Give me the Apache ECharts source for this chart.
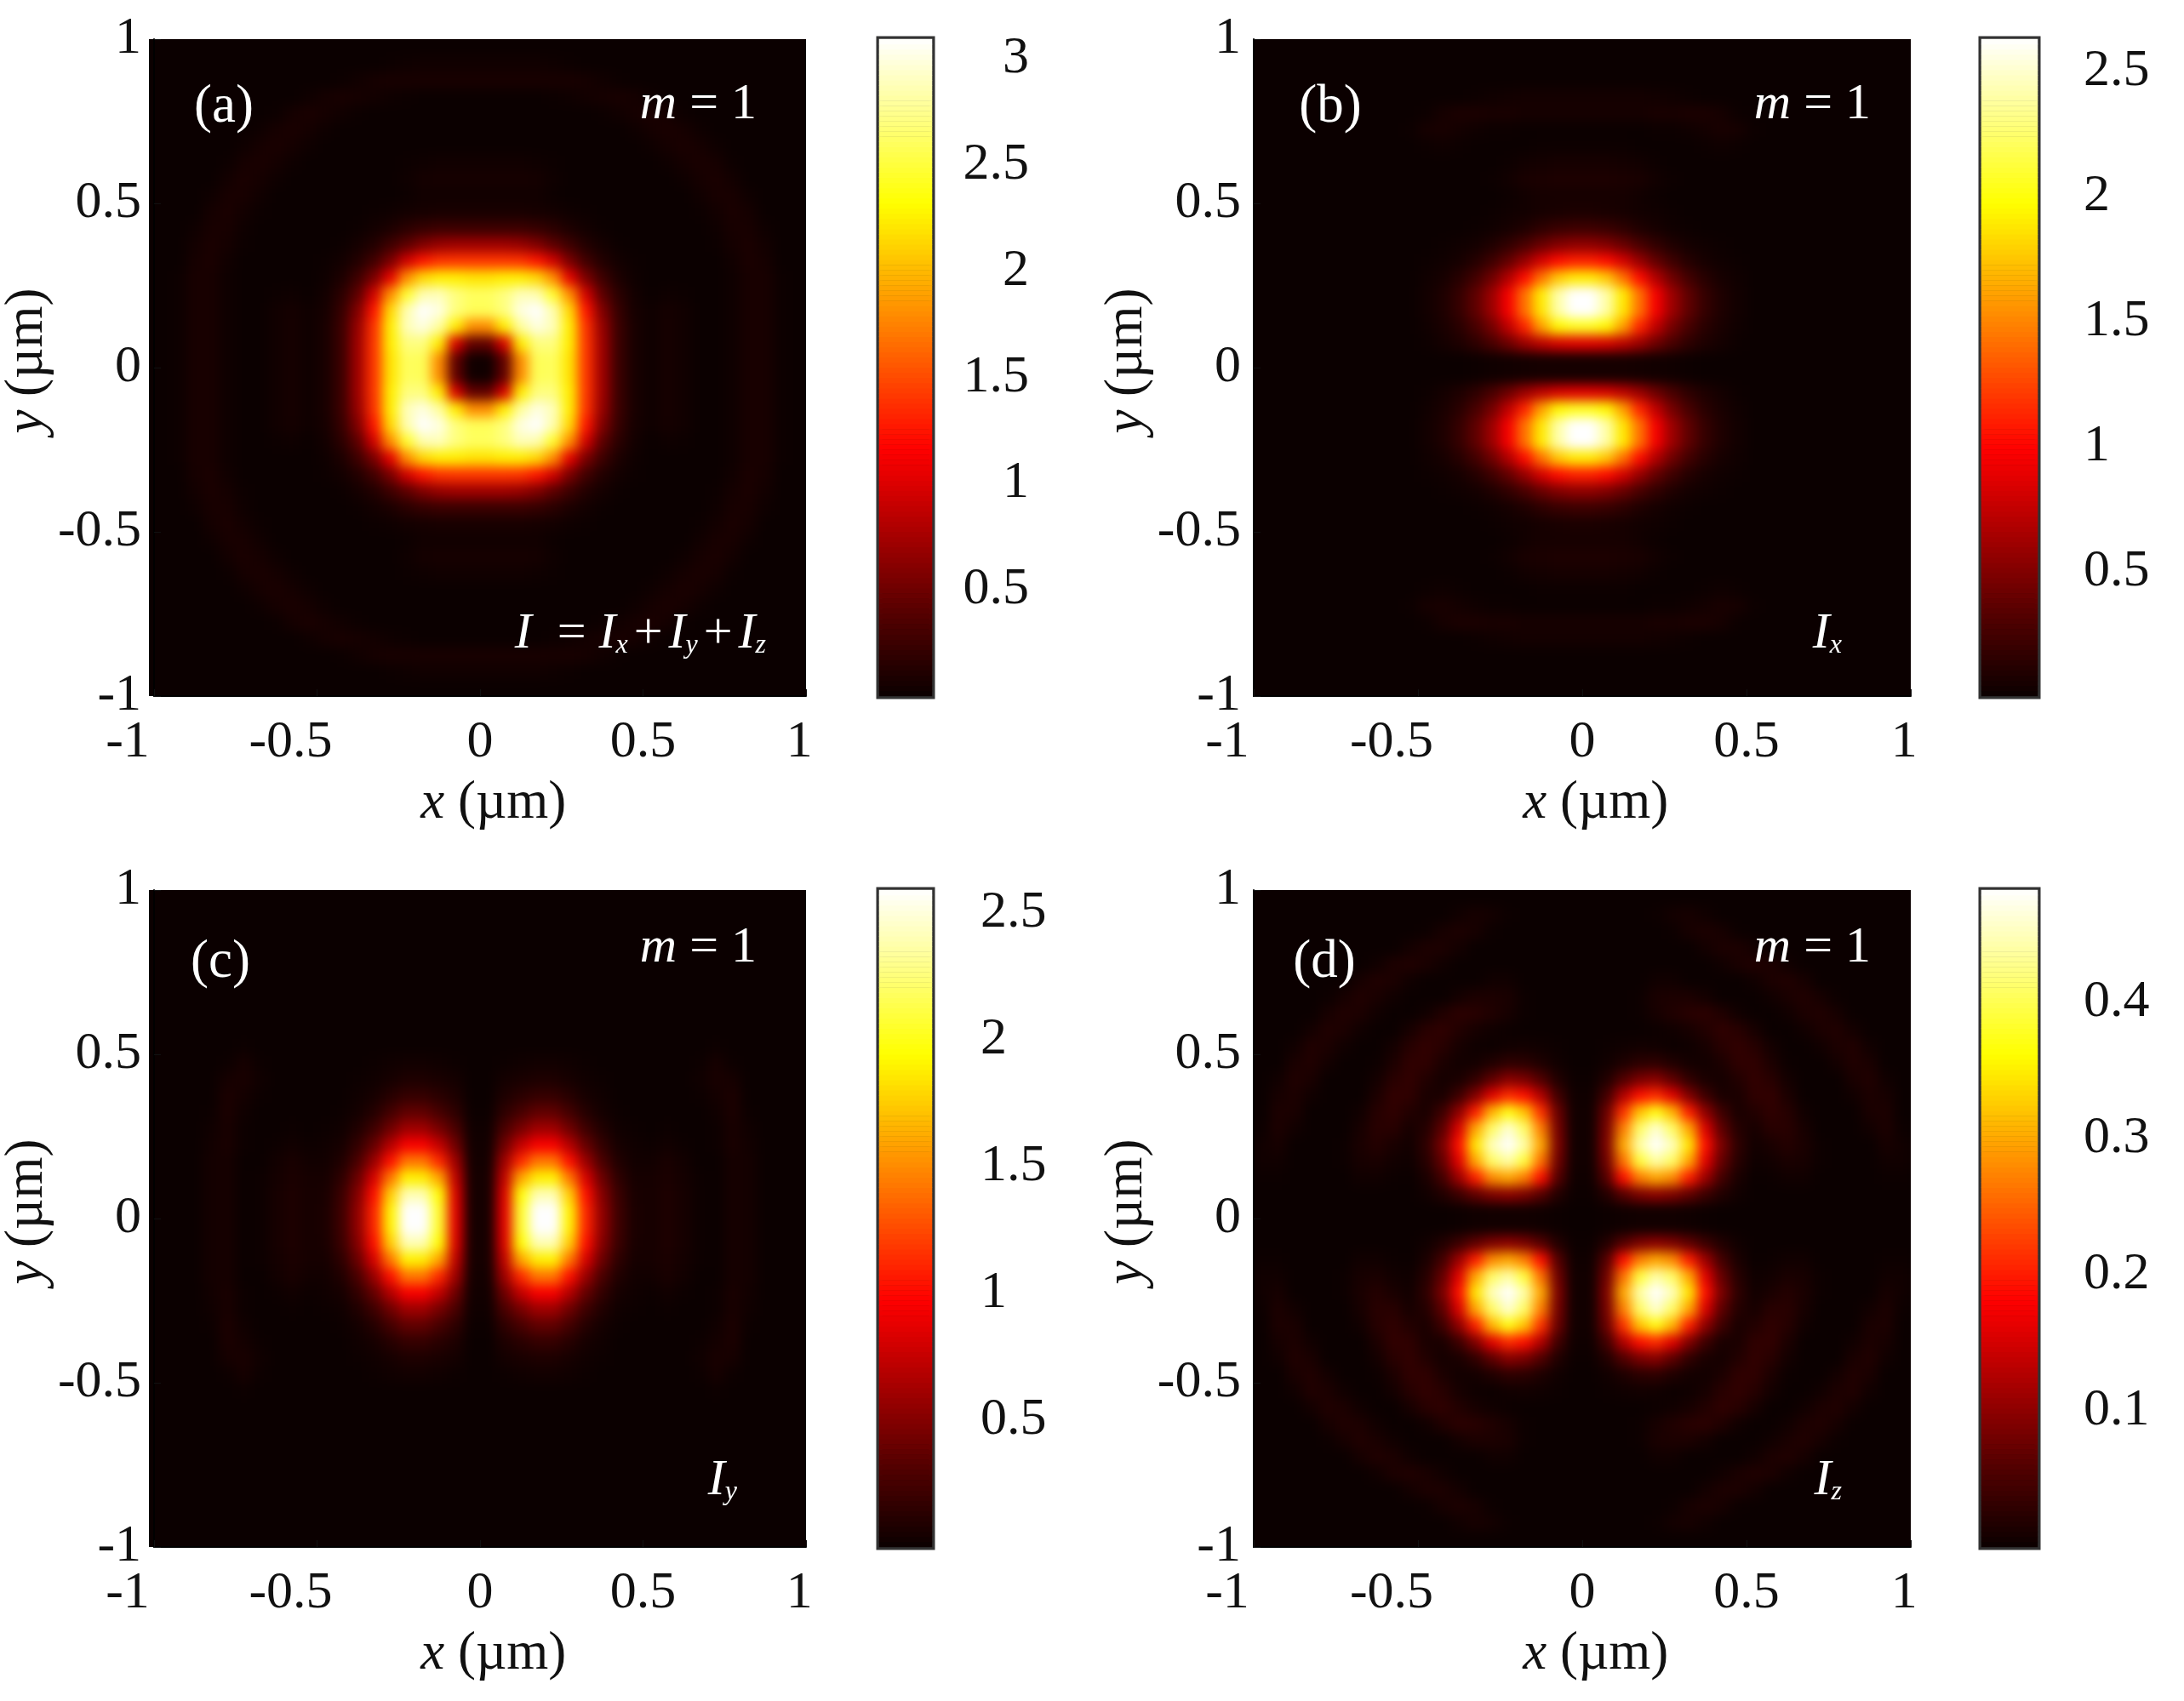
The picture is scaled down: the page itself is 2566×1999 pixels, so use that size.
<!DOCTYPE html>
<html><head><meta charset="utf-8">
<style>html,body{margin:0;padding:0;background:#fff}#c{width:2566px;height:1999px}</style>
<script src="https://cdn.jsdelivr.net/npm/echarts@6/dist/echarts.min.js"></script>
</head><body><div id="c"></div>
<script>
// Quadrant samples (x,y >= 0); rows y=.025..., columns x=.025... step .05 µm.
const intensityTotal = [
[.03,.45,1.80,2.58,2.60,2.20,1.40,.72,.25,.07,.02,.06,.03,0,0,.02,.07,.07,.01],
[.45,1.00,2.25,2.70,2.70,2.25,1.40,.72,.25,.07,.02,.06,.03,0,0,.02,.07,.07,.01],
[1.80,2.25,2.80,3.00,2.88,2.25,1.38,.68,.25,.07,.02,.06,.03,0,0,.02,.07,.07,.01],
[2.58,2.70,3.00,3.09,2.85,2.15,1.25,.58,.22,.06,.02,.05,.03,0,0,.02,.07,.07,.01],
[2.60,2.70,2.88,2.85,2.45,1.80,.95,.42,.16,.04,0,.02,.01,0,0,.02,.07,.07,.01],
[2.20,2.25,2.25,2.15,1.80,1.05,.55,.26,.09,.02,0,0,0,0,0,.02,.07,.07,.01],
[1.40,1.40,1.38,1.25,.95,.55,.28,.12,.04,.01,0,0,0,0,0,.03,.08,.06],
[.72,.72,.68,.58,.42,.26,.12,.05,.01,0,0,0,0,0,.01,.05,.08,.04],
[.25,.25,.25,.22,.16,.09,.04,.01,0,0,0,0,0,0,.02,.07,.07,.02],
[.07,.07,.07,.06,.04,.02,.01,0,0,0,0,0,0,.01,.04,.08,.05],
[.03,.03,.03,.03,.01,0,0,0,0,0,0,0,0,.03,.07,.07,.02],
[.06,.06,.06,.05,.02,0,0,0,0,0,0,0,.02,.06,.08,.04],
[.03,.03,.03,.02,.01,0,0,0,0,0,0,.02,.05,.08,.06,.01],
[0,0,0,0,0,0,0,0,0,0,.02,.05,.08,.06,.02],
[0,0,0,0,0,0,0,0,0,.02,.05,.08,.06,.02],
[0,0,0,0,0,0,0,.01,.03,.06,.08,.05,.01],
[0,0,0,0,.01,.02,.04,.06,.07,.05,.02],
[.07,.07,.07,.07,.07,.07,.06,.03,.01],
[.03,.03,.03,.03,.02,.01],
[]];
const intensityX = [
[.05,.05,.05,.04,.03,.02,.01],
[.87,.84,.74,.60,.42,.27,.15,.08,.04,.01],
[2.05,1.95,1.60,1.12,.74,.45,.26,.13,.06,.02],
[2.63,2.40,1.88,1.42,.95,.60,.36,.18,.08,.03],
[2.63,2.40,1.90,1.42,.95,.60,.36,.18,.08,.03],
[1.90,1.76,1.42,1.02,.68,.42,.24,.12,.05,.02],
[1.10,1.02,.82,.58,.38,.22,.11,.05,.02,.01],
[.55,.50,.40,.27,.17,.09,.04,.02,.01],
[.22,.20,.15,.09,.05,.02,.01],
[.07,.06,.05,.03,.02,.01],
[.05,.05,.05,.03,.01],
[.08,.08,.07,.06,.03,.01],
[.05,.05,.04,.03,.01],
[.01,.01,.01,0,0,0,0,.01,.02,.01],
[0,0,0,0,.01,.01,.02,.04,.06,.05,.01],
[.05,.05,.05,.05,.06,.06,.07,.07,.05,.01],
[.04,.04,.04,.04,.03,.02,.01],
[],[],[]];
const intensityY = [
[.05,.87,2.05,2.63,2.63,1.90,1.10,.55,.22,.07,.05,.08,.05,.01,0,.05,.04],
[.05,.84,1.95,2.40,2.40,1.76,1.02,.50,.20,.06,.05,.08,.05,.01,0,.05,.04],
[.05,.74,1.60,1.88,1.90,1.42,.82,.40,.15,.05,.05,.07,.04,.01,0,.05,.04],
[.04,.60,1.12,1.42,1.42,1.02,.58,.27,.09,.03,.03,.06,.03,0,0,.05,.04],
[.03,.42,.74,.95,.95,.68,.38,.17,.05,.02,.01,.03,.01,0,.01,.06,.03],
[.02,.27,.45,.60,.60,.42,.22,.09,.02,.01,0,.01,0,0,.01,.06,.02],
[.01,.15,.26,.36,.36,.24,.11,.04,.01,0,0,0,0,0,.02,.07,.01],
[0,.08,.13,.18,.18,.12,.05,.02,0,0,0,0,0,.01,.04,.07],
[0,.04,.06,.08,.08,.05,.02,.01,0,0,0,0,0,.02,.06,.05],
[0,.01,.02,.03,.03,.02,.01,0,0,0,0,0,0,.01,.05,.01],
[0,0,0,0,0,0,0,0,0,0,0,0,0,0,.01],
[],[],[],[],[],[],[],[],[]];
const intensityZ = [
[0,.002,.004,.006,.006,.006,.004,.002],
[.002,.02,.06,.088,.10,.09,.068,.04,.018,.005],
[.004,.06,.19,.27,.30,.28,.20,.11,.045,.012,0,.002,.005,.005,0,0,0,0,.002,.002],
[.006,.08,.26,.39,.44,.41,.30,.16,.07,.022,.003,.006,.012,.01,.002,0,0,0,.005,.005],
[.006,.09,.30,.44,.482,.45,.345,.19,.085,.028,.006,.012,.02,.012,.002,0,0,0,.01,.005],
[.006,.085,.27,.41,.46,.41,.30,.155,.065,.02,.01,.024,.024,.01,0,0,0,.006,.014,.002],
[.006,.075,.215,.32,.37,.31,.20,.10,.04,.012,.019,.029,.022,.005,0,0,0,.012,.014],
[.004,.045,.125,.19,.21,.16,.09,.04,.012,.012,.029,.031,.014,0,0,0,.005,.014,.01],
[.002,.018,.055,.085,.095,.065,.03,.012,.008,.019,.031,.024,.007,0,0,0,.012,.017,.005],
[0,.005,.015,.025,.028,.016,.007,.006,.014,.029,.029,.014,.002,0,0,.007,.017,.012],
[0,.002,.004,.006,.005,.002,.003,.01,.024,.031,.022,.007,0,0,.005,.014,.017,.005],
[0,0,0,0,.002,.005,.01,.019,.029,.024,.01,0,0,.005,.014,.017,.007],
[0,0,0,.002,.01,.017,.024,.026,.017,.005,0,0,.005,.014,.017,.01],
[0,0,0,.002,.012,.014,.014,.007,0,0,0,.005,.012,.017,.01,.002],
[0,0,0,0,.005,.005,0,0,0,0,.005,.014,.017,.01],
[0,0,0,0,0,0,0,0,.005,.012,.017,.014,.005],
[0,0,0,0,0,0,0,.007,.014,.014,.007],
[0,0,0,0,0,.002,.01,.014,.01,.002],
[0,0,0,0,.002,.007,.01,.005],
[]];
const colorbarMax = [3.09, 2.63, 2.59, 0.482];
const colorbarStep = [0.5, 0.5, 0.5, 0.1];
const hotColors = ['#0b0000','#550000','#aa0000','#ff0000','#ff5500','#ffaa00','#ffff00','#ffff80','#ffffff'];
const fields = [intensityTotal, intensityX, intensityY, intensityZ];
const panelLabels = ['(a)','(b)','(c)','(d)'];

// Layout
const FONT = '"Liberation Serif"';
const PLOT = 772;
const layout = [
 {l:175,t:46, cl:1033,cw:62, lab:'right',margin:114, tag:[263,126], m:[889,123], eq:[900,745]},
 {l:1473,t:46, cl:2328,cw:66, lab:'left',margin:54, tag:[1563,126], m:[2198,123], eq:[2164,745]},
 {l:175,t:1046, cl:1033,cw:62, lab:'left',margin:57, tag:[259,1131], m:[889,1114], eq:[866,1740]},
 {l:1473,t:1046, cl:2328,cw:66, lab:'left',margin:54, tag:[1556,1131], m:[2198,1114], eq:[2164,1740]}
];
const subs = {I:{font:'italic 60px '+FONT,fill:'#fff'}, s:{font:'italic 32px '+FONT,fill:'#fff',verticalAlign:'bottom',padding:[22,0,0,0]}, p:{font:'60px '+FONT,fill:'#fff',padding:[0,7,0,7]}};
const nb = '\u00a0';
const eqTexts = ['{I|I}'+nb+nb+'='+nb+'{I|I}{s|x}{p|+}{I|I}{s|y}{p|+}{I|I}{s|z}','{I|I}{s|x}','{I|I}{s|y}','{I|I}{s|z}'];

const grid=[],xAxis=[],yAxis=[],series=[],visualMap=[],graphic=[];
const cells = Array.from({length:40},(_,i)=>i);
const levels = Array.from({length:128},(_,i)=>i);
function tickFmt(v){ return v<0 ? v+nb+nb+nb+nb : (v===1 ? '1'+nb : String(v)); }
const labelStyle = {fontFamily:FONT,fontSize:62,color:'#111'};
const nameStyle = {fontFamily:FONT,fontSize:63,color:'#111',rich:{i:{fontFamily:FONT,fontSize:63,fontStyle:'italic',color:'#111'}}};

fields.forEach((q,p)=>{
  const L=layout[p];
  const g=grid.length;
  grid.push({left:L.l,top:L.t,width:PLOT,height:PLOT,show:true,backgroundColor:'#0b0000',borderColor:'#0b0000',borderWidth:70,zlevel:0});
  const xc=xAxis.length, yc=yAxis.length;
  xAxis.push({type:'category',gridIndex:g,data:cells,show:false,position:'top',zlevel:0});
  yAxis.push({type:'category',gridIndex:g,data:cells,show:false,position:'right',zlevel:0});
  xAxis.push({type:'value',gridIndex:g,min:-1,max:1,interval:.5,position:'bottom',zlevel:1,splitLine:{show:false},
    axisLine:{show:true,onZero:false,lineStyle:{color:'#000',width:2}},axisTick:{inside:true,length:8,lineStyle:{color:'#111'}},
    axisLabel:Object.assign({margin:24,formatter:tickFmt,showMinLabel:true,showMaxLabel:true,hideOverlap:false},labelStyle),
    name:nb+nb+'{i|x} (µm)',nameLocation:'middle',nameGap:95,nameTextStyle:nameStyle});
  yAxis.push({type:'value',gridIndex:g,min:-1,max:1,interval:.5,position:'left',zlevel:1,splitLine:{show:false},
    axisLine:{show:true,onZero:false,lineStyle:{color:'#000',width:2}},axisTick:{inside:true,length:8,lineStyle:{color:'#111'}},
    axisLabel:Object.assign({margin:15,showMinLabel:true,showMaxLabel:true,hideOverlap:false},labelStyle),
    name:nb+'{i|y} (µm)',nameLocation:'middle',nameGap:70,nameTextStyle:nameStyle});
  const data=[];
  for(let j=0;j<40;j++)for(let i=0;i<40;i++){
    const qi=i<20?19-i:i-20, qj=j<20?19-j:j-20;
    const row=q[qj]; const v=row[qi]===undefined?0:row[qi];
    data.push([i,j,v]);
  }
  const sHeat=series.length;
  series.push({type:'heatmap',xAxisIndex:xc,yAxisIndex:yc,data,zlevel:0,silent:true,progressive:0,animation:false,emphasis:{disabled:true}});

  const cg=grid.length;
  grid.push({left:L.cl,top:L.t,width:L.cw,height:PLOT,show:true,borderColor:'#333',borderWidth:7,backgroundColor:'#000',zlevel:1});
  const cx=xAxis.length, cy=yAxis.length;
  xAxis.push({type:'category',gridIndex:cg,data:[0],show:false,position:'top',zlevel:1});
  yAxis.push({type:'category',gridIndex:cg,data:levels,show:false,position:'right',zlevel:1,offset:0});
  yAxis.push({type:'value',gridIndex:cg,position:'right',min:0,max:colorbarMax[p],interval:colorbarStep[p],zlevel:1,splitLine:{show:false},
    axisLine:{show:true,onZero:false,lineStyle:{color:'#333',width:3}},axisTick:{inside:true,length:8,lineStyle:{color:'#333',width:2}},
    axisLabel:Object.assign({margin:L.margin,align:L.lab,showMinLabel:false,showMaxLabel:false,hideOverlap:false},labelStyle)});
  const cdata=levels.map(k=>[0,k,(k+.5)/levels.length*colorbarMax[p]]);
  const sBar=series.length;
  series.push({type:'heatmap',xAxisIndex:cx,yAxisIndex:cy,data:cdata,zlevel:1,silent:true,progressive:0,animation:false,emphasis:{disabled:true}});

  visualMap.push({show:false,type:'continuous',min:0,max:colorbarMax[p],dimension:2,seriesIndex:[sHeat,sBar],inRange:{color:hotColors}});

  const textFont='60px '+FONT;
  graphic.push({type:'text',zlevel:2,x:L.tag[0],y:L.tag[1],style:{text:panelLabels[p],font:'63px '+FONT,fill:'#fff',align:'center',verticalAlign:'middle'}});
  graphic.push({type:'text',zlevel:2,x:L.m[0],y:L.m[1],style:{text:'{I|m} = 1',font:textFont,fill:'#fff',align:'right',verticalAlign:'middle',rich:{I:subs.I}}});
  graphic.push({type:'text',zlevel:2,x:L.eq[0],y:L.eq[1],style:{text:eqTexts[p],font:textFont,fill:'#fff',align:'right',verticalAlign:'middle',rich:subs}});
});

const chart=echarts.init(document.getElementById('c'),null,{renderer:'canvas',width:2566,height:1999});
chart.setOption({animation:false,backgroundColor:'transparent',grid,xAxis,yAxis,visualMap,series,graphic});

function soften(){
  const cs=[...document.querySelectorAll('#c canvas')];
  const base=cs.find(c=>c.getAttribute('data-zr-dom-id')==='zr_0')||cs[0];
  base.style.filter='blur(7px)';
  const rects=layout.map(L=>`M${L.l} ${L.t}H${L.l+PLOT}V${L.t+PLOT}H${L.l}Z`).join(' ');
  base.style.clipPath=`path('${rects}')`;
  cs.filter(c=>c!==base).forEach(c=>{c.style.filter='blur(0.7px)';});
}
soften();
chart.on('finished',soften);
</script></body></html>
